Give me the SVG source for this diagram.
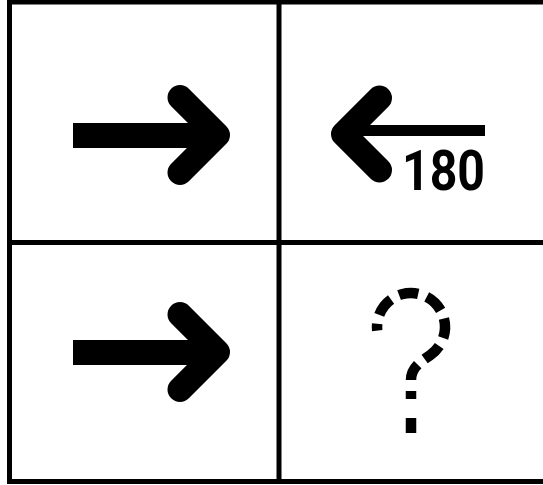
<svg xmlns="http://www.w3.org/2000/svg" width="543" height="485" viewBox="0 0 543 485">
<style>
.grid{fill:none;stroke:#000;stroke-width:5}
.chev{fill:none;stroke:#000;stroke-width:25;stroke-linecap:round;stroke-linejoin:round}
.q{fill:none;stroke:#000;stroke-width:10.5;stroke-linecap:butt}
.num{font-family:"Liberation Sans Narrow","Roboto","Liberation Sans",sans-serif;font-weight:bold;font-size:56px;fill:#000}
</style>
<rect width="543" height="485" fill="#fff"/>
<g id="grid">
<rect class="grid" x="9.5" y="2" width="545" height="479.5"/>
<line class="grid" x1="279" y1="2" x2="279" y2="481.5"/>
<line class="grid" x1="9.5" y1="242.5" x2="543" y2="242.5"/>
</g>
<g id="arrow-top-left">
<rect x="73" y="123" width="135" height="25" fill="#000"/>
<polyline class="chev" points="180,97.5 217.5,135 180,172.5"/>
</g>
<g id="arrow-top-right">
<rect x="355" y="125" width="130" height="11" fill="#000"/>
<polyline class="chev" points="379.5,98 343.5,134 379.5,170"/>
<text class="num" x="402" y="190" textLength="83" lengthAdjust="spacingAndGlyphs">180</text>
</g>
<g id="arrow-bottom-left">
<rect x="73" y="340" width="135" height="25" fill="#000"/>
<polyline class="chev" points="180,314.5 217.5,352 180,389.5"/>
</g>
<g id="question">
<path class="q" d="M377.2 330.6 A34 34 0 1 1 430.5 354.9 C420 362 411 368 411 380" stroke-dasharray="19.5 9" stroke-dashoffset="12.5"/>
<path class="q" d="M411 391 L411 399 M411 418 L411 433"/>
</g>
</svg>
